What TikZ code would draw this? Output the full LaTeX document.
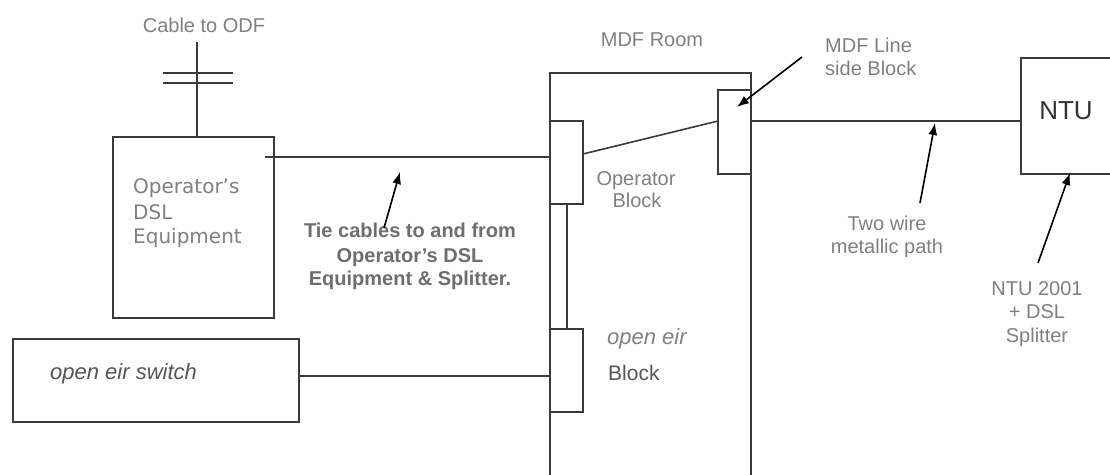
\documentclass[tikz,border=0pt]{standalone}
\usepackage{fontspec}
\setmainfont{Liberation Sans}
\newfontfamily\dejavu{DejaVu Sans}
\usetikzlibrary{arrows.meta,calc}
\definecolor{wire}{HTML}{3A3A3A}
\definecolor{lbl}{HTML}{808080}
\definecolor{tiec}{HTML}{6E6E6E}
\definecolor{dark}{HTML}{555555}
\definecolor{ntuc}{HTML}{333333}
\tikzset{
  box/.style={draw=wire, line width=1.6pt, inner sep=0pt, outer sep=0pt},
  wireline/.style={draw=wire, line width=1.6pt},
  pointer/.style={draw=black, line width=1.6pt, -{Latex[length=12pt,width=9pt]}},
  lab/.style={text=lbl, font=\fontsize{20}{24}\selectfont, inner sep=0pt, anchor=base},
}
\begin{document}
\begin{tikzpicture}[x=1pt,y=-1pt]
\useasboundingbox (0,0) rectangle (1110,474);
\clip (0,0) rectangle (1110,474);
\fill[white] (0,0) rectangle (1110,474);

% boxes
\node[box, minimum width=161pt, minimum height=181pt] (dsl) at (193.5,227.5) {};
\node[box, minimum width=286pt, minimum height=83pt] (switch) at (156,380.5) {};
\node[box, minimum width=201pt, minimum height=427pt] (mdf) at (650.5,286.5) {};
\node[box, fill=white, minimum width=33pt, minimum height=83pt] (opblock) at (566.5,162.5) {};
\node[box, fill=white, minimum width=33pt, minimum height=84pt] (lineside) at (734.5,132) {};
\node[box, fill=white, minimum width=33pt, minimum height=83pt] (eirblock) at (566.5,370.5) {};
\node[box, minimum width=99pt, minimum height=116pt] (ntu) at (1070.5,116) {};

% cable to ODF
\coordinate (cabletop) at (197,42);
\draw[wireline] (cabletop) -- (cabletop |- dsl.north);
\coordinate (barL1) at (163,73);
\coordinate (barR1) at (233,73);
\coordinate (barL2) at (163,83);
\coordinate (barR2) at (233,83);
\draw[wireline] (barL1) -- (barR1);
\draw[wireline] (barL2) -- (barR2);

% connections
\coordinate (tieL) at (265,157);
\draw[wireline] (tieL) -- (tieL -| opblock.west);
\coordinate (diagA) at (583,154);
\coordinate (diagB) at (718,121);
\draw[wireline] (diagA) -- (diagB);
\coordinate (vlink) at (567,0);
\draw[wireline] (vlink |- opblock.south) -- (vlink |- eirblock.north);
\draw[wireline] (switch.east |- 0,376) -- (eirblock.west |- 0,376);
\coordinate (lineR) at (751,121);
\draw[wireline] (lineR) -- (lineR -| ntu.west);

% labels
\node[lab] (tcable) at (204,32) {Cable to ODF};
\node[lab] (tmdf) at (652,46) {MDF Room};
\node[lab, anchor=base west] (tmdfl1) at (825,52) {MDF Line};
\node[lab, anchor=base west] (tmdfl2) at (825,75) {side Block};
\node[lab, text=ntuc, font=\fontsize{26}{30}\selectfont] (tntu) at (1066,119) {NTU};
\node[lab, anchor=base west, font=\dejavu\fontsize{20}{24}\selectfont] (tdsl1) at (133,193) {Operator’s};
\node[lab, anchor=base west, font=\dejavu\fontsize{20}{24}\selectfont] (tdsl2) at (133,219) {DSL};
\node[lab, anchor=base west, font=\dejavu\fontsize{20}{24}\selectfont] (tdsl3) at (133,243) {Equipment};
\node[lab, text=tiec, font=\bfseries\fontsize{20}{24}\selectfont] (ttie1) at (410,237) {Tie cables to and from};
\node[lab, text=tiec, font=\bfseries\fontsize{20}{24}\selectfont] (ttie2) at (410,262) {Operator’s DSL};
\node[lab, text=tiec, font=\bfseries\fontsize{20}{24}\selectfont] (ttie3) at (410,285) {Equipment \& Splitter.};
\node[lab] (topb1) at (636,185) {Operator};
\node[lab] (topb2) at (637,207) {Block};
\node[lab, anchor=base west, font=\itshape\fontsize{22}{26}\selectfont] (teir1) at (607,344) {open eir};
\node[lab, anchor=base west, text=dark, font=\fontsize{21}{25}\selectfont] (teir2) at (608,380) {Block};
\node[lab, anchor=base west, text=dark, font=\itshape\fontsize{22}{26}\selectfont] (tswitch) at (50,379) {open eir switch};
\node[lab] (ttwo1) at (887,230) {Two wire};
\node[lab] (ttwo2) at (887,253) {metallic path};
\node[lab] (tntu1) at (1037,295) {NTU 2001};
\node[lab] (tntu2) at (1037,318) {+ DSL};
\node[lab] (tntu3) at (1037,342) {Splitter};

% pointer arrows
\coordinate (tieA) at (384,228);
\coordinate (tieB) at (400,172);
\draw[pointer] (tieA) -- (tieB);
\coordinate (mdfA) at (802,57);
\coordinate (mdfB) at (737,107);
\draw[pointer] (mdfA) -- (mdfB);
\coordinate (twoA) at (920,203);
\coordinate (twoB) at (935,123);
\draw[pointer] (twoA) -- (twoB);
\coordinate (ntuA) at (1038,263);
\coordinate (ntuB) at (1070,173);
\draw[pointer] (ntuA) -- (ntuB);
\end{tikzpicture}
\end{document}
